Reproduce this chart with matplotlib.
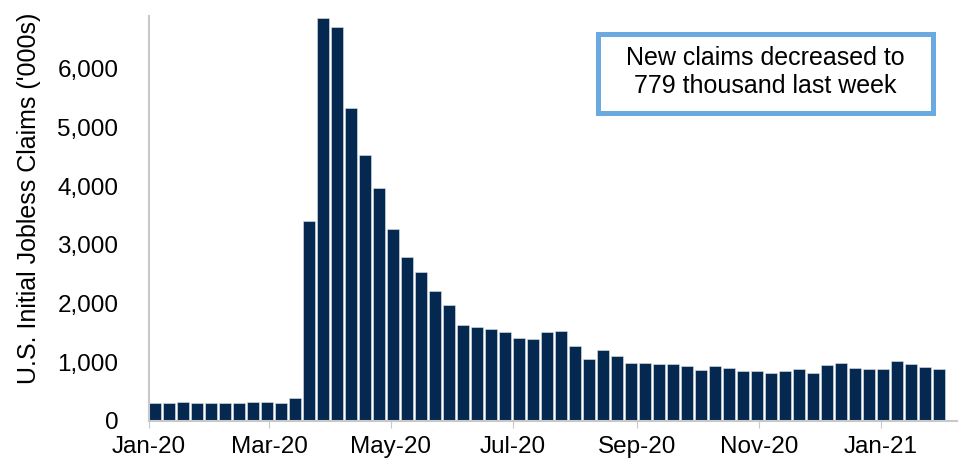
import numpy as np
import pandas as pd
import matplotlib
matplotlib.use("Agg")
import matplotlib.pyplot as plt
import matplotlib.dates as mdates
from matplotlib.patches import Rectangle

plt.rcParams['font.family'] = ['Liberation Sans', 'DejaVu Sans']

# weekly initial jobless claims ('000s), weeks ending Saturday from 4 Jan 2020
claims = [312, 312, 324, 312, 302, 302, 312, 318, 318, 312,
          387, 3413, 6867, 6718, 5336, 4539, 3964, 3276, 2787, 2537,
          2218, 1980, 1638, 1604, 1575, 1524, 1411, 1394, 1513, 1530,
          1285, 1058, 1206, 1104, 984, 990, 967, 967, 944, 870,
          939, 899, 859, 859, 814, 848, 887, 819, 961, 995,
          910, 887, 887, 1029, 973, 916, 882]
weeks = pd.date_range('2020-01-04', periods=len(claims), freq='7D')

y_ticks = [0, 1000, 2000, 3000, 4000, 5000, 6000]
note = 'New claims decreased to\n779 thousand last week'

fig = plt.figure(figsize=(9.63, 4.61), dpi=100)
ax = fig.add_axes([0.1547, 0.0868, 0.8391, 0.8785])

ax.bar(weeks, claims, width=6.0, color='#04284f', edgecolor='#dfe4ea', linewidth=0.4)

ax.set_xlim(pd.Timestamp('2020-01-01'), pd.Timestamp('2021-02-08'))
ax.set_ylim(0, 6900)

ax.xaxis.set_major_locator(mdates.MonthLocator(bymonth=[1, 3, 5, 7, 9, 11]))
ax.xaxis.set_major_formatter(mdates.DateFormatter('%b-%y'))
ax.set_yticks(y_ticks)
ax.set_yticklabels([f'{v:,}' for v in y_ticks])

ax.tick_params(axis='x', labelsize=17.5, length=5, color='#c8c8c8', pad=6)
ax.tick_params(axis='y', labelsize=17.5, length=0, pad=22)

for side in ['top', 'right']:
    ax.spines[side].set_visible(False)
for side in ['left', 'bottom']:
    ax.spines[side].set_color('#c8c8c8')
    ax.spines[side].set_linewidth(1.5)

ax.set_ylabel("U.S. Initial Jobless Claims ('000s)", fontsize=18, labelpad=12)
ax.yaxis.label.set_y(0.55)

# annotation box
fig.patches.append(Rectangle((0.6205, 0.7549), 0.3487, 0.1714, transform=fig.transFigure,
                             facecolor='white', edgecolor='#6aaae0', linewidth=3.6))
fig.text(0.7945, 0.8440, note, ha='center', va='center', fontsize=18, linespacing=1.25)

fig.savefig('out.png', dpi=100)
